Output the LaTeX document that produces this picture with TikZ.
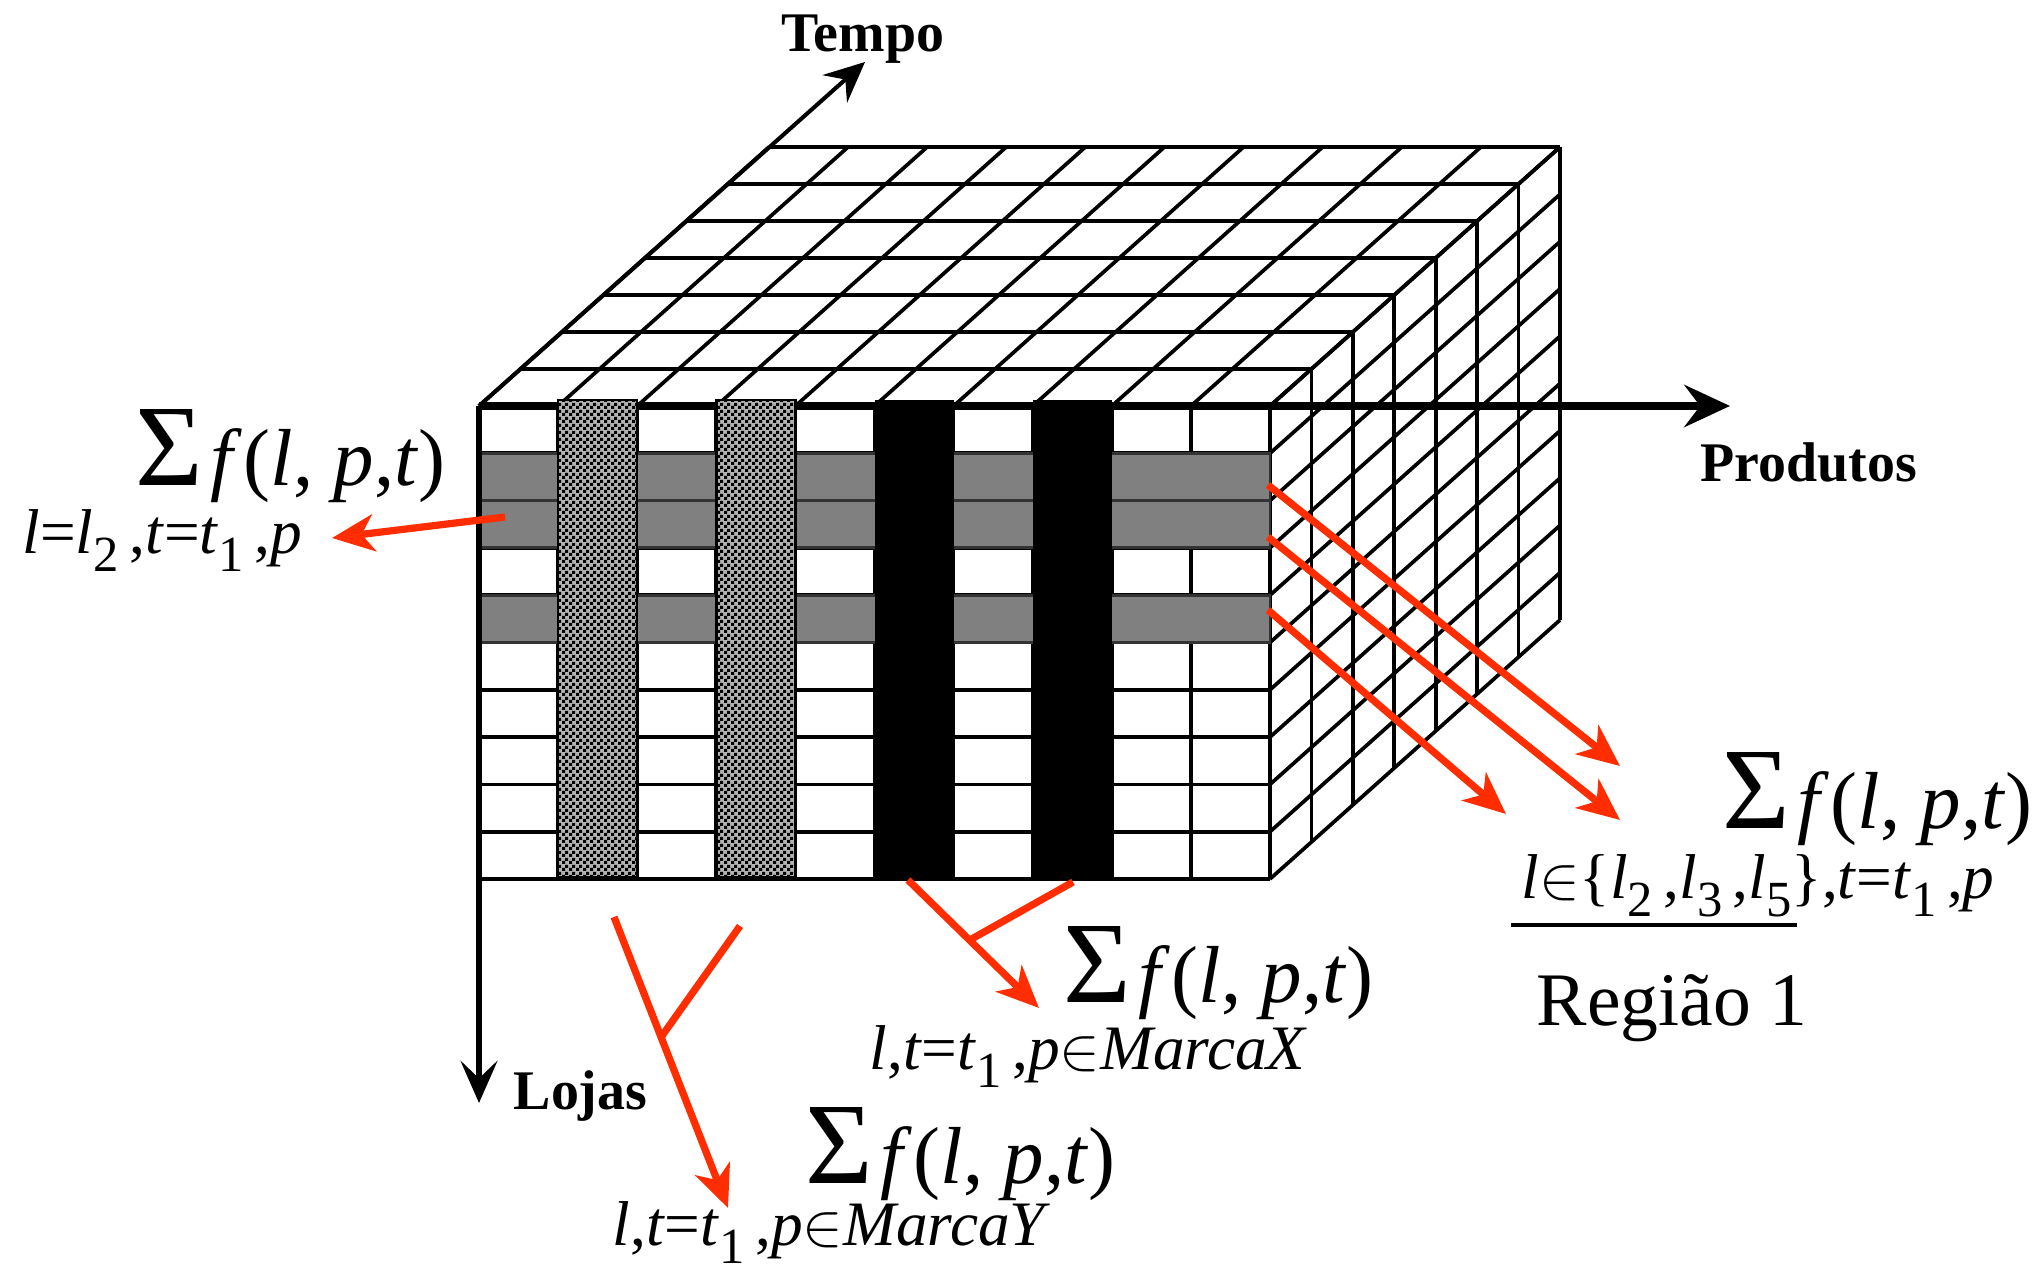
\documentclass[tikz,border=0pt]{standalone}
\usepackage{fontspec}
\setmainfont{Liberation Serif}
\usetikzlibrary{arrows.meta,patterns,calc}
\definecolor{arrred}{RGB}{255,45,0}
\definecolor{gray50}{RGB}{128,128,128}
\pgfdeclarepatternformonly{finechecker}{\pgfpointorigin}{\pgfqpoint{2pt}{2pt}}{\pgfqpoint{2pt}{2pt}}{%
  \pgfpathrectangle{\pgfpointorigin}{\pgfqpoint{1pt}{1pt}}%
  \pgfpathrectangle{\pgfqpoint{1pt}{1pt}}{\pgfqpoint{1pt}{1pt}}%
  \pgfusepath{fill}}
\newcommand\lblfont{\fontsize{15.9}{18}\selectfont\bfseries}
\newcommand\fmain{\fontsize{23}{26}\selectfont}
\newcommand\freg{\fontsize{21.5}{24}\selectfont}
\newcommand\fsub{\fontsize{18}{20}\selectfont}
\newcommand\sigm{{\fontsize{33}{33}\selectfont Σ}}
\newcommand\sumf{\sigm\hspace{2pt}\textit{f\/}\hspace{0.5pt}(\textit{l}, \textit{p},\textit{t\/})}
\newcommand\sbs[1]{\raisebox{-0.28em}{\scalebox{0.8}{#1}}}
\begin{document}
\begin{tikzpicture}[x=0.01cm,y=-0.01cm,
  gridl/.style={line width=1.05pt},
  redarr/.style={draw=arrred,line width=2.05pt,-{Stealth[length=12pt,width=10.5pt,inset=3.5pt]}},
  redl/.style={draw=arrred,line width=2.05pt},
  txt/.style={inner sep=0pt,anchor=base west},
]
\useasboundingbox[fill=white] (0,0) rectangle (2042,1271);
% top face
\foreach \j in {0,...,7} \draw[gridl] (479+\j*41.43,406-\j*37) -- (1270+\j*41.43,406-\j*37);
\foreach \i in {0,...,10} \draw[gridl] (479+\i*79.1,406) -- (769+\i*79.1,147);
% right face
\foreach \j in {0,...,10} \draw[gridl] (1270,406+\j*47.3) -- (1560,147+\j*47.3);
\foreach \k in {0,...,7} \draw[gridl] (1270+\k*41.43,406-\k*37) -- (1270+\k*41.43,879-\k*37);
% front face
\foreach \j in {0,...,10} \draw[gridl] (479,406+\j*47.3) -- (1270,406+\j*47.3);
\foreach \i in {0,...,10} \draw[gridl] (479+\i*79.1,406) -- (479+\i*79.1,879);
% gray rows
\foreach \j in {1,2,4} \draw[draw=black!80,line width=0.8pt,fill=gray50] (479,406+\j*47.3) rectangle (1270,406+\j*47.3+47.3);
% axes
\coordinate (O) at (479,406);
\coordinate (Pt) at (1730,406);
\coordinate (Tt) at (865,62);
\coordinate (Lt) at (479,1103);
\draw[line width=2pt,-{Stealth[length=13pt,width=12pt,inset=4.5pt]}] (O) -- (Pt);
\draw[line width=1.15pt,-{Stealth[length=11.5pt,width=10.5pt,inset=4pt]}] (O) -- (Tt);
\draw[line width=1.6pt,-{Stealth[length=12pt,width=10.5pt,inset=5pt]}] (O) -- (Lt);
% patterned columns
\foreach \i in {1,3} {
  \fill[black!30] (479+\i*79.1,400) rectangle (558.1+\i*79.1,877);
  \draw[line width=0.7pt,pattern=finechecker] (479+\i*79.1,400) rectangle (558.1+\i*79.1,877);
}
% black columns
\foreach \i in {5,7} \fill[black] (479+\i*79.1,400) rectangle (558.1+\i*79.1,879);
% labels
\node[txt,font=\lblfont] (tempo) at (781,52) {Tempo};
\node[txt,font=\lblfont] (prod) at (1700,482) {Produtos};
\node[txt,font=\lblfont] (lojas) at (513,1110) {Lojas};
% formulas
\node[txt,font=\fmain] (s1) at (135,486) {\sumf};
\node[txt,font=\fsub] (c1) at (22,554) {\textit{l}=\textit{l}\sbs{2}\,,\textit{t}=\textit{t}\sbs{1}\,,\textit{p}};
\node[txt,font=\fmain] (s2) at (1722,829) {\sumf};
\node[txt,font=\fsub] (c2) at (1521,899) {\textit{l}$\in$\{\textit{l}\sbs{2}\,,\textit{l}\sbs{3}\,,\textit{l}\sbs{5}\},\textit{t}=\textit{t}\sbs{1}\,,\textit{p}};
\node[txt,font=\freg] (reg) at (1536,1026) {Região 1};
\coordinate (u1) at (1511,925);
\coordinate (u2) at (1797,925);
\draw[line width=1.1pt] (u1) -- (u2);
\node[txt,font=\fmain] (s3) at (1063,1003) {\sumf};
\node[txt,font=\fsub] (c3) at (869,1070) {\textit{l},\textit{t}=\textit{t}\sbs{1}\,,\textit{p}$\in$\textit{MarcaX}};
\node[txt,font=\fmain] (s4) at (805,1184) {\sumf};
\node[txt,font=\fsub] (c4) at (612,1246) {\textit{l},\textit{t}=\textit{t}\sbs{1}\,,\textit{p}$\in$\textit{MarcaY}};
% red arrows
\coordinate (a1s) at (505,517); \coordinate (a1e) at (332,538);
\draw[redarr] (a1s) -- (a1e);
\coordinate (r1s) at (1268,485); \coordinate (r1e) at (1620,766);
\coordinate (r2s) at (1268,537); \coordinate (r2e) at (1620,820);
\coordinate (r3s) at (1268,610); \coordinate (r3e) at (1506,814);
\draw[redarr] (r1s) -- (r1e);
\draw[redarr] (r2s) -- (r2e);
\draw[redarr] (r3s) -- (r3e);
\coordinate (xs) at (908,880); \coordinate (xe) at (1039,1008); \coordinate (xb) at (1073,882);
\coordinate (xj) at ($(xs)!0.47!(xe)$);
\draw[redarr] (xs) -- (xe);
\draw[redl] (xb) -- (xj);
\coordinate (ys) at (614,917); \coordinate (ye) at (728,1208); \coordinate (yb) at (740,926);
\coordinate (yj) at ($(ys)!0.413!(ye)$);
\draw[redarr] (ys) -- (ye);
\draw[redl] (yb) -- (yj);
\end{tikzpicture}
\end{document}
